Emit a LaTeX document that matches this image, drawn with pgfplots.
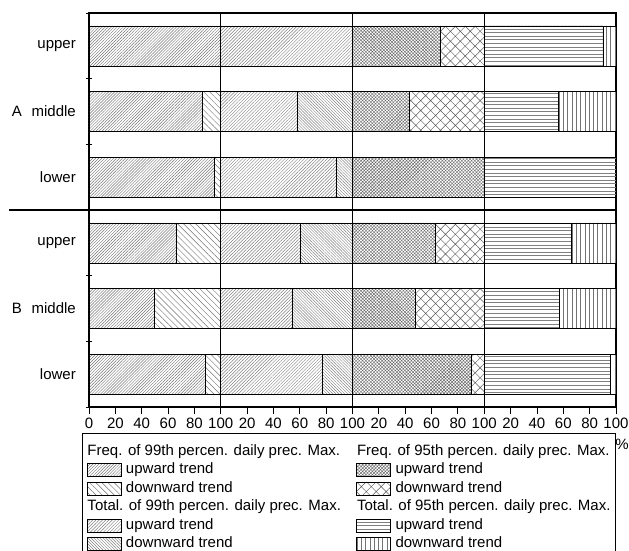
\documentclass[border=0pt]{standalone}
\usepackage{fontspec}
\setmainfont{Liberation Sans}
\usepackage{pgfplots}
\pgfplotsset{compat=1.18}
\usetikzlibrary{patterns,patterns.meta}
\pgfdeclarepatternformonly{myhlines}{\pgfqpoint{-1bp}{-1bp}}{\pgfqpoint{5bp}{4.6bp}}{\pgfqpoint{3.6bp}{3.6bp}}{%
  \pgfsetlinewidth{0.6bp}%
  \pgfpathmoveto{\pgfqpoint{-1bp}{0bp}}\pgfpathlineto{\pgfqpoint{5bp}{0bp}}\pgfusepath{stroke}}
\pgfplotsset{
  myleg/.style={legend image code/.code={\draw[##1] (0bp,-6.5bp) rectangle (34bp,6.5bp);}},
  pA/.style={draw=black, line width=0.6bp, pattern={Lines[angle=45,distance=2.1bp,line width=0.45bp]}, pattern color=black!55},
  pB/.style={draw=black, line width=0.6bp, pattern={Lines[angle=-45,distance=4.3bp,line width=0.45bp]}, pattern color=black!55},
  pC/.style={draw=black, line width=0.6bp, pattern={Lines[angle=45,distance=2.3bp,line width=0.45bp]}, pattern color=black!50},
  pD/.style={draw=black, line width=0.6bp, pattern={Lines[angle=-45,distance=2.1bp,line width=0.45bp]}, pattern color=black!50},
  pE/.style={draw=black, line width=0.6bp, pattern={Hatch[angle=45,distance=2.3bp,line width=0.4bp]}, pattern color=black!60},
  pF/.style={draw=black, line width=0.6bp, pattern={Hatch[angle=45,distance=7bp,line width=0.45bp]}, pattern color=black!65},
  pG/.style={draw=black, line width=0.6bp, pattern=myhlines, pattern color=black!50},
  pH/.style={draw=black, line width=0.6bp, pattern={Lines[angle=90,distance=4.3bp,line width=0.6bp]}, pattern color=black!55},
}
\begin{document}
\fontsize{15bp}{18bp}\selectfont
\begin{tikzpicture}
\begin{axis}[
  scale only axis, width=527bp, height=394bp,
  xmin=0, xmax=400, ymin=0, ymax=6,
  xbar stacked, bar width=0.61,
  clip=false,
  axis line style={line width=1.2bp},
  xtick={0,20,...,400},
  xticklabels={0,20,40,60,80,100,20,40,60,80,100,20,40,60,80,100,20,40,60,80,100},
  xtick pos=left, ytick pos=left,
  ytick={0,1,2,3,4,5,6}, yticklabels={},
  tick align=outside, major tick length=6.5bp,
  tick style={line width=0.9bp, black},
  y tick style={xshift=3.5bp},
  /pgf/number format/assume math mode=true,
  xticklabel style={font=\fontsize{15bp}{18bp}\selectfont, inner sep=1bp, yshift=-3bp},
  legend columns=2,
  legend cell align=left,
  legend style={at={(0,0)}, anchor=north west, xshift=-7bp, yshift=-26bp,
    draw=black, line width=0.8bp, inner xsep=4.5bp, inner ysep=11bp,
    font=\fontsize{15bp}{18bp}\selectfont,
    nodes={inner sep=0.5bp, text height=10.5bp, text depth=3bp},
    row sep=4.0bp,
    /tikz/every odd column/.append style={column sep=4bp},
    /tikz/every even column/.append style={column sep=15bp}},
]
% Freq 99th
\addplot[pA, forget plot] coordinates {(100,5.5) (85.7,4.5) (95,3.5) (66,2.5) (49.5,1.5) (88.5,0.5)};
\addplot[pB, forget plot] coordinates {(0,5.5) (14.3,4.5) (5,3.5) (34,2.5) (50.5,1.5) (11.5,0.5)};
% Total 99th
\addplot[pC, forget plot] coordinates {(100,5.5) (57.8,4.5) (88,3.5) (60,2.5) (54.5,1.5) (77,0.5)};
\addplot[pD, forget plot] coordinates {(0,5.5) (42.2,4.5) (12,3.5) (40,2.5) (45.5,1.5) (23,0.5)};
% Freq 95th
\addplot[pE, forget plot] coordinates {(67,5.5) (43,4.5) (100,3.5) (63,2.5) (48,1.5) (90.5,0.5)};
\addplot[pF, forget plot] coordinates {(33,5.5) (57,4.5) (0,3.5) (37,2.5) (52,1.5) (9.5,0.5)};
% Total 95th
\addplot[pG, forget plot] coordinates {(90,5.5) (56,4.5) (100,3.5) (66,2.5) (57,1.5) (95.5,0.5)};
\addplot[pH, forget plot] coordinates {(10,5.5) (44,4.5) (0,3.5) (34,2.5) (43,1.5) (4.5,0.5)};

\addlegendimage{empty legend}\addlegendentry{\hspace*{-38.5bp}Freq. of 99th percen. daily prec. Max.}
\addlegendimage{empty legend}\addlegendentry{\hspace*{-38.5bp}Freq. of 95th percen. daily prec. Max.}
\addlegendimage{myleg,pA}\addlegendentry{upward trend}
\addlegendimage{myleg,pE}\addlegendentry{upward trend}
\addlegendimage{myleg,pB}\addlegendentry{downward trend}
\addlegendimage{myleg,pF}\addlegendentry{downward trend}
\addlegendimage{empty legend}\addlegendentry{\hspace*{-38.5bp}Total. of 99th percen. daily prec. Max.}
\addlegendimage{empty legend}\addlegendentry{\hspace*{-38.5bp}Total. of 95th percen. daily prec. Max.}
\addlegendimage{myleg,pC}\addlegendentry{upward trend}
\addlegendimage{myleg,pG}\addlegendentry{upward trend}
\addlegendimage{myleg,pD}\addlegendentry{downward trend}
\addlegendimage{myleg,pH}\addlegendentry{downward trend}

\draw[line width=1.2bp] (axis cs:100,0) -- (axis cs:100,6);
\draw[line width=1.2bp] (axis cs:200,0) -- (axis cs:200,6);
\draw[line width=1.2bp] (axis cs:300,0) -- (axis cs:300,6);
\draw[line width=1.2bp] (axis cs:400,3) -- (axis cs:0,3) -- ++(-80bp,0);

\node[anchor=east] at (axis cs:0,5.5) [xshift=-8bp] {upper};
\node[anchor=east] at (axis cs:0,4.5) [xshift=-8bp] {middle};
\node[anchor=east] at (axis cs:0,3.5) [xshift=-8bp] {lower};
\node[anchor=east] at (axis cs:0,2.5) [xshift=-8bp] {upper};
\node[anchor=east] at (axis cs:0,1.5) [xshift=-8bp] {middle};
\node[anchor=east] at (axis cs:0,0.5) [xshift=-8bp] {lower};
\node at (axis cs:0,4.5) [xshift=-72bp] {A};
\node at (axis cs:0,1.5) [xshift=-72bp] {B};
\node at (axis cs:400,0) [xshift=6bp, yshift=-37bp] {\%};
\coordinate (LL) at (rel axis cs:0,0);
\end{axis}
\pgfresetboundingbox
\path[use as bounding box] ([shift={(-89bp,-144bp)}]LL) rectangle ([shift={(540bp,407bp)}]LL);
\end{tikzpicture}
\end{document}
